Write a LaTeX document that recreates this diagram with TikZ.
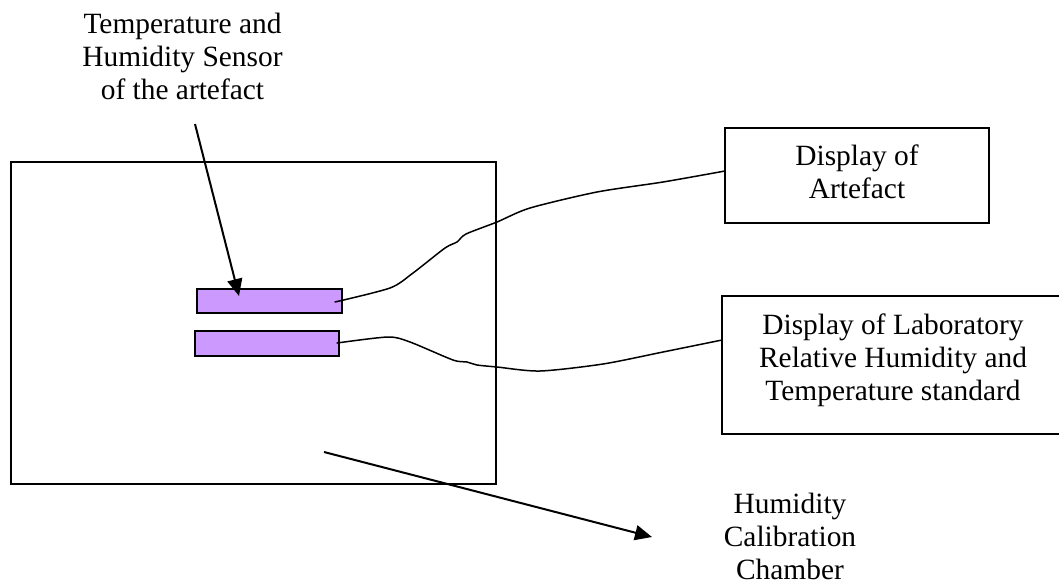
\documentclass[tikz,border=0pt]{standalone}
\usepackage{fontspec}
\setmainfont{Liberation Serif}
\usetikzlibrary{arrows.meta}
\definecolor{sensorfill}{HTML}{CC99FF}
\begin{document}
\begin{tikzpicture}[x=1pt,y=-1pt,
  every node/.style={inner sep=0pt, outer sep=0pt},
  txt/.style={align=center, font=\fontsize{29.4}{33}\selectfont},
  frame/.style={draw=black, line width=2pt, fill=none},
  sensorbar/.style={draw=black, line width=2pt, fill=sensorfill},
  wire/.style={draw=black, line width=1.5pt, line cap=round},
  pointer/.style={draw=black, line width=2pt, -{Triangle[length=17pt,width=15pt]}}]
\useasboundingbox (0,0) rectangle (1059,587);

% calibration chamber and the two sensors inside it
\node[frame, minimum width=485pt, minimum height=322pt] (chamber) at (253.3,323) {};
\node[sensorbar, minimum width=145pt, minimum height=24pt] (artsensor) at (269.5,301) {};
\node[sensorbar, minimum width=144pt, minimum height=25pt] (labsensor) at (267,343.5) {};

% display units
\node[frame, minimum width=264pt, minimum height=95pt] (artdisp) at (857,175.5) {};
\node[frame, minimum width=343pt, minimum height=138pt] (labdisp) at (893.5,365) {};

% texts (anchored on the baseline of their last line)
\node[txt, anchor=base] (sensorlbl) at (182.5,99) {Temperature and\\Humidity Sensor\\of the artefact};
\node[txt, anchor=base] (artlbl) at (857,198) {Display of\\Artefact};
\node[txt, anchor=base] (lablbl) at (893,400) {Display of Laboratory\\Relative Humidity and\\Temperature standard};
\node[txt, anchor=base] (chamberlbl) at (790,579) {Humidity\\Calibration\\Chamber};

% arrow pointing at the artefact sensor
\coordinate (sensortail) at (195,124);
\draw[pointer] (sensortail) -- ([xshift=-30.5pt,yshift=17pt]artsensor.south);

% arrow pointing at the chamber label
\coordinate (chambertail) at (324,452);
\coordinate (chambertip) at (652,537);
\draw[pointer] (chambertail) -- (chambertip);

% cables from the sensors to the displays
\draw[wire] plot[smooth, tension=0.45] coordinates {
  ([xshift=-7pt,yshift=-1pt]artsensor.east) (390,288) (413,273) (445,248) (457,242)
  (466,234) (497,222) (530,208) (597,192) (663,182) ([yshift=4.5pt]artdisp.west)};
\draw[wire] plot[smooth, tension=0.45] coordinates {
  ([xshift=-2pt,yshift=0.5pt]labsensor.east) (388,337) (410,342) (453,360) (467,362)
  (477,365) (497,367) (540,371) (603,364) (663,352) ([yshift=25pt]labdisp.west)};
\end{tikzpicture}
\end{document}
